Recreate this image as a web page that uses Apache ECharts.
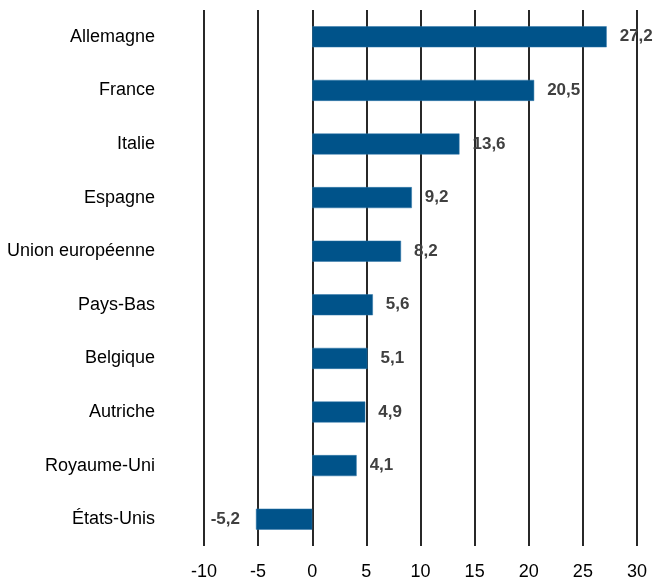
<!DOCTYPE html>
<html>
<head>
<meta charset="utf-8">
<script src="https://cdn.jsdelivr.net/npm/echarts@6/dist/echarts.min.js"></script>
<style>
  html, body { margin: 0; padding: 0; background: #fff; }
  #main { width: 656px; height: 583px; }
</style>
</head>
<body>
<div id="main"></div>
<script>
// pays, du haut vers le bas
var categories = ['Allemagne', 'France', 'Italie', 'Espagne', 'Union européenne',
  'Pays-Bas', 'Belgique', 'Autriche', 'Royaume-Uni', 'États-Unis'];
var values = [27.2, 20.5, 13.6, 9.2, 8.2, 5.6, 5.1, 4.9, 4.1, -5.2];
var xTicks = [-10, -5, 0, 5, 10, 15, 20, 25, 30];

var font = '"Liberation Sans Narrow", "Liberation Sans", Arial, sans-serif';

var myChart = echarts.init(document.getElementById('main'));
myChart.setOption({
  animation: false,
  grid: { left: 204, right: 19, top: 10, bottom: 37 },
  xAxis: {
    type: 'value',
    min: xTicks[0],
    max: xTicks[xTicks.length - 1],
    interval: 5,
    axisLine: { show: false },
    axisTick: { show: false },
    splitLine: { show: true, lineStyle: { color: '#111', width: 1.8 } },
    axisLabel: {
      margin: 17,
      color: '#000',
      fontSize: 18,
      fontFamily: font
    }
  },
  yAxis: {
    type: 'category',
    inverse: true,
    data: categories,
    axisLine: { show: false, onZero: false },
    axisTick: { show: false },
    axisLabel: {
      margin: 49,
      color: '#000',
      fontSize: 18,
      fontFamily: font
    }
  },
  series: [{
    type: 'bar',
    data: values.map(function (v) {
      return {
        value: v,
        label: { position: v < 0 ? 'left' : 'right', distance: v < 0 ? 16 : 13 }
      };
    }),
    barWidth: 21,
    itemStyle: { color: '#00538A', borderColor: '#2F77A8', borderWidth: 0.5 },
    label: {
      show: true,
      color: '#404040',
      fontWeight: 'bold',
      fontSize: 17,
      fontFamily: font,
      formatter: function (p) { return String(p.value).replace('.', ','); }
    }
  }]
});
</script>
</body>
</html>
